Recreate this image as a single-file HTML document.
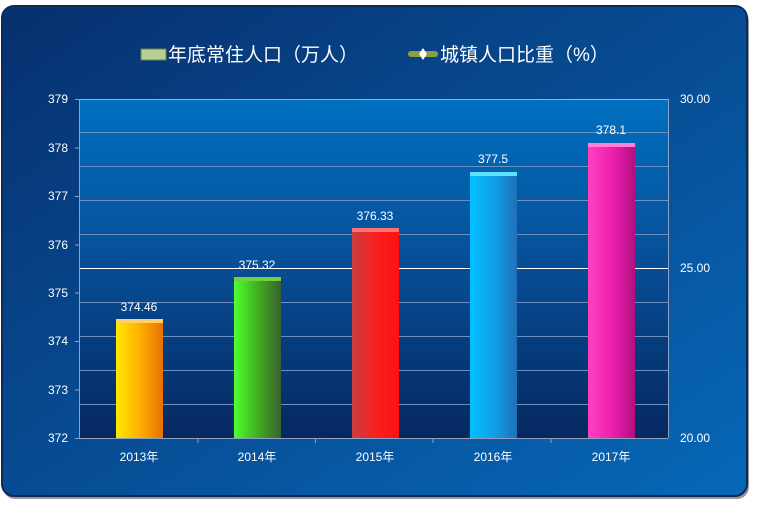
<!DOCTYPE html>
<html><head><meta charset="utf-8"><style>
html,body{margin:0;padding:0;background:#fff;width:760px;height:506px;overflow:hidden}
svg text{font-family:"Liberation Sans","Noto Sans CJK SC",sans-serif}
</style></head><body>
<svg width="760" height="506" viewBox="0 0 760 506" xmlns="http://www.w3.org/2000/svg">
<defs>
<linearGradient id="bg" x1="0" y1="0" x2="1" y2="1"><stop offset="0" stop-color="#07306e"/><stop offset="1" stop-color="#0768b8"/></linearGradient>
<linearGradient id="pa" x1="0" y1="0" x2="0" y2="1"><stop offset="0" stop-color="#0070c0"/><stop offset="0.5" stop-color="#074d95"/><stop offset="1" stop-color="#062860"/></linearGradient>
<linearGradient id="b1" x1="0" x2="1"><stop offset="0" stop-color="#ffe800"/><stop offset="0.5" stop-color="#ffb000"/><stop offset="1" stop-color="#e87000"/></linearGradient>
<linearGradient id="b2" x1="0" x2="1"><stop offset="0" stop-color="#50ff30"/><stop offset="0.5" stop-color="#40b020"/><stop offset="1" stop-color="#3a6030"/></linearGradient>
<linearGradient id="b3" x1="0" x2="1"><stop offset="0" stop-color="#c84040"/><stop offset="0.5" stop-color="#f82020"/><stop offset="1" stop-color="#ff1010"/></linearGradient>
<linearGradient id="b4" x1="0" x2="1"><stop offset="0" stop-color="#00c0ff"/><stop offset="0.5" stop-color="#10a0e8"/><stop offset="1" stop-color="#2070b8"/></linearGradient>
<linearGradient id="b5" x1="0" x2="1"><stop offset="0" stop-color="#ff40c0"/><stop offset="0.5" stop-color="#f020b0"/><stop offset="1" stop-color="#b01080"/></linearGradient>
</defs>
<rect x="3" y="9" width="746" height="490" rx="12" fill="#333" opacity="0.5"/>
<rect x="2" y="6" width="745" height="490" rx="12" fill="url(#bg)" stroke="#0a2a5a" stroke-width="2"/>
<rect x="80" y="99" width="588" height="339" fill="url(#pa)"/>
<g stroke="#6f8fc0" stroke-width="1">
<line x1="80" x2="668" y1="99.5" y2="99.5" stroke="#8fb0e0"/>
<line x1="80" x2="668" y1="132.5" y2="132.5"/>
<line x1="80" x2="668" y1="166.5" y2="166.5"/>
<line x1="80" x2="668" y1="200.5" y2="200.5"/>
<line x1="80" x2="668" y1="234.5" y2="234.5"/>
<line x1="80" x2="668" y1="268.5" y2="268.5" stroke="#ffffff"/>
<line x1="80" x2="668" y1="302.5" y2="302.5"/>
<line x1="80" x2="668" y1="336.5" y2="336.5"/>
<line x1="80" x2="668" y1="370.5" y2="370.5"/>
<line x1="80" x2="668" y1="404.5" y2="404.5"/>
<line x1="80" x2="668" y1="438.5" y2="438.5" stroke="#8fa0c0"/>
<line x1="79.5" x2="79.5" y1="99" y2="438" stroke="#8fa0c0"/>
<line x1="668.5" x2="668.5" y1="99" y2="438" stroke="#8fa0c0"/>
</g>
<g stroke="#8fa0c0"><line x1="75" x2="80" y1="99.5" y2="99.5"/><line x1="75" x2="80" y1="148" y2="148"/><line x1="75" x2="80" y1="196.5" y2="196.5"/><line x1="75" x2="80" y1="245" y2="245"/><line x1="75" x2="80" y1="293" y2="293"/><line x1="75" x2="80" y1="341.5" y2="341.5"/><line x1="75" x2="80" y1="390" y2="390"/><line x1="75" x2="80" y1="438.5" y2="438.5"/>
<line x1="198" x2="198" y1="438" y2="443"/><line x1="315.5" x2="315.5" y1="438" y2="443"/><line x1="433" x2="433" y1="438" y2="443"/><line x1="551" x2="551" y1="438" y2="443"/></g>
<g fill="#fff" font-size="12" text-anchor="end">
<text x="68" y="103">379</text><text x="68" y="152">378</text><text x="68" y="200">377</text><text x="68" y="249">376</text><text x="68" y="297">375</text><text x="68" y="345">374</text><text x="68" y="394">373</text><text x="68" y="442">372</text>
</g>
<g fill="#fff" font-size="12"><text x="680" y="103">30.00</text><text x="680" y="272">25.00</text><text x="680" y="442">20.00</text></g>
<g fill="#fff" font-size="12" text-anchor="middle">
<text x="139" y="461">2013年</text><text x="257" y="461">2014年</text><text x="375" y="461">2015年</text><text x="493" y="461">2016年</text><text x="611" y="461">2017年</text>
<text x="139" y="311">374.46</text><text x="257" y="269">375.32</text><text x="375" y="220">376.33</text><text x="493" y="163">377.5</text><text x="611" y="134">378.1</text>
</g>
<rect x="116" y="319" width="47" height="119" fill="url(#b1)"/><rect x="116" y="319" width="47" height="4" fill="#ffd070"/>
<rect x="234" y="277" width="47" height="161" fill="url(#b2)"/><rect x="234" y="277" width="47" height="4" fill="#70d040"/>
<rect x="352" y="228" width="47" height="210" fill="url(#b3)"/><rect x="352" y="228" width="47" height="4" fill="#ff7070"/>
<rect x="470" y="172" width="47" height="266" fill="url(#b4)"/><rect x="470" y="172" width="47" height="4" fill="#60e0ff"/>
<rect x="588" y="143" width="47" height="295" fill="url(#b5)"/><rect x="588" y="143" width="47" height="4" fill="#ff80d8"/>
<rect x="141" y="49" width="25" height="11" fill="#b8d090" stroke="#708050"/>
<text x="168" y="61" fill="#fff" font-size="19">年底常住人口（万人）</text>
<rect x="408" y="51" width="30" height="6" rx="3" fill="#8aa040"/>
<path d="M423 48 L427 54 L423 60 L419 54 Z" fill="#fff"/>
<text x="440" y="61" fill="#fff" font-size="19">城镇人口比重（%）</text>
</svg>
</body></html>
